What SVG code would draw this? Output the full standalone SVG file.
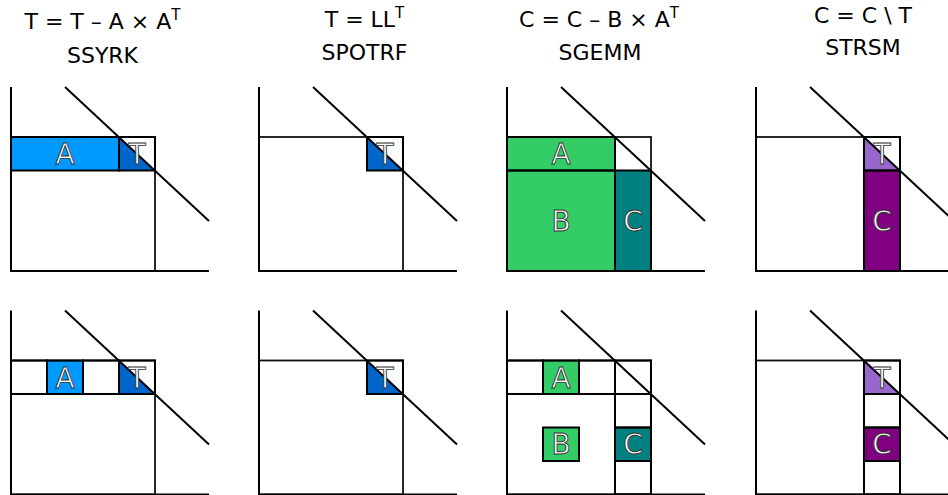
<svg xmlns="http://www.w3.org/2000/svg" width="948" height="495" viewBox="0 0 948 495">
<style>
.ln{stroke:#000;stroke-width:2;fill:none}
.ol{stroke:#000;stroke-width:2;fill:none}
.bx{stroke:#111;stroke-width:1.8;fill:none}
.a1{fill:#0099ff}
.t1{fill:#0066cc}
.g{fill:#33cc66}
.tl{fill:#008080}
.p1{fill:#9966cc}
.p2{fill:#800080}
.lbl{font-family:"DejaVu Sans",sans-serif;font-size:28px;fill:#fff;stroke:#333;stroke-width:0.9;text-anchor:middle}
.tt{font-family:"DejaVu Sans",sans-serif;font-size:22px;fill:#000;text-anchor:middle}
.sup{font-size:15px}
</style>
<rect width="948" height="495" fill="#fff"/>
<g id="titles">
<text class="tt" x="102.5" y="29">T = T – A × A<tspan class="sup" dy="-9">T</tspan></text>
<text class="tt" x="102.5" y="63">SSYRK</text>
<text class="tt" x="364.5" y="27">T = LL<tspan class="sup" dy="-9">T</tspan></text>
<text class="tt" x="364.5" y="59.5">SPOTRF</text>
<text class="tt" x="599" y="27">C = C – B × A<tspan class="sup" dy="-9">T</tspan></text>
<text class="tt" x="600" y="60">SGEMM</text>
<text class="tt" x="863" y="23">C = C \ T</text>
<text class="tt" x="863" y="54.5">STRSM</text>
</g>
<!-- top row -->
<g id="ssyrk-top">
<rect class="a1" x="11" y="137" width="108" height="33.5"/>
<polygon class="t1" points="119,137 119,170.5 155,170.5"/>
<rect class="bx" x="11" y="137" width="144" height="134"/>
<rect class="ol" x="11" y="137" width="108" height="33.5"/>
<rect class="ol" x="119" y="137" width="36" height="33.5"/>
<path class="ln" d="M11,87V271H209"/>
<path class="ln" d="M65,87L209,221"/>
<text class="lbl" x="65" y="164">A</text>
<text class="lbl" x="137" y="164">T</text>
</g>
<g id="spotrf-top">
<polygon class="t1" points="367,137 367,170.5 403,170.5"/>
<rect class="bx" x="259" y="137" width="144" height="134"/>
<rect class="ol" x="367" y="137" width="36" height="33.5"/>
<path class="ln" d="M259,87V271H457"/>
<path class="ln" d="M313,87L457,221"/>
<text class="lbl" x="385" y="164">T</text>
</g>
<g id="sgemm-top">
<rect class="g" x="507" y="137" width="108" height="33.5"/>
<rect class="g" x="507" y="170.5" width="108" height="100.5"/>
<rect class="tl" x="615" y="170.5" width="36" height="100.5"/>
<rect class="bx" x="507" y="137" width="144" height="134"/>
<rect class="ol" x="507" y="137" width="108" height="33.5"/>
<rect class="ol" x="507" y="170.5" width="108" height="100.5"/>
<rect class="ol" x="615" y="170.5" width="36" height="100.5"/>
<path class="ln" d="M507,87V271H705"/>
<path class="ln" d="M561,87L705,221"/>
<text class="lbl" x="561" y="164">A</text>
<text class="lbl" x="561" y="230.75">B</text>
<text class="lbl" x="633" y="230.75">C</text>
</g>
<g id="strsm-top">
<polygon class="p1" points="864,137 864,170.5 900,170.5"/>
<rect class="p2" x="864" y="170.5" width="36" height="100.5"/>
<rect class="bx" x="756" y="137" width="144" height="134"/>
<rect class="ol" x="864" y="137" width="36" height="33.5"/>
<rect class="ol" x="864" y="170.5" width="36" height="100.5"/>
<path class="ln" d="M756,87V271H954"/>
<path class="ln" d="M810,87L954,221"/>
<text class="lbl" x="882" y="164">T</text>
<text class="lbl" x="882" y="230.75">C</text>
</g>
<!-- bottom row -->
<g id="ssyrk-bottom" transform="translate(0,223.5)">
<rect class="a1" x="47" y="137" width="36" height="33.5"/>
<polygon class="t1" points="119,137 119,170.5 155,170.5"/>
<rect class="bx" x="11" y="137" width="144" height="134"/>
<rect class="ol" x="11" y="137" width="36" height="33.5"/>
<rect class="ol" x="47" y="137" width="36" height="33.5"/>
<rect class="ol" x="83" y="137" width="36" height="33.5"/>
<rect class="ol" x="119" y="137" width="36" height="33.5"/>
<path class="ln" d="M11,87V271H209"/>
<path class="ln" d="M65,87L209,221"/>
<text class="lbl" x="65" y="164">A</text>
<text class="lbl" x="137" y="164">T</text>
</g>
<g id="spotrf-bottom" transform="translate(0,223.5)">
<polygon class="t1" points="367,137 367,170.5 403,170.5"/>
<rect class="bx" x="259" y="137" width="144" height="134"/>
<rect class="ol" x="367" y="137" width="36" height="33.5"/>
<path class="ln" d="M259,87V271H457"/>
<path class="ln" d="M313,87L457,221"/>
<text class="lbl" x="385" y="164">T</text>
</g>
<g id="sgemm-bottom" transform="translate(0,223.5)">
<rect class="g" x="543" y="137" width="36" height="33.5"/>
<rect class="g" x="543" y="204" width="36" height="33.5"/>
<rect class="tl" x="615" y="204" width="36" height="33.5"/>
<rect class="bx" x="507" y="137" width="144" height="134"/>
<rect class="ol" x="507" y="137" width="36" height="33.5"/>
<rect class="ol" x="543" y="137" width="36" height="33.5"/>
<rect class="ol" x="579" y="137" width="36" height="33.5"/>
<rect class="ol" x="615" y="137" width="36" height="33.5"/>
<rect class="ol" x="615" y="170.5" width="36" height="33.5"/>
<rect class="ol" x="615" y="204" width="36" height="33.5"/>
<rect class="ol" x="615" y="237.5" width="36" height="33.5"/>
<rect class="ol" x="543" y="204" width="36" height="33.5"/>
<path class="ln" d="M507,87V271H705"/>
<path class="ln" d="M561,87L705,221"/>
<text class="lbl" x="561" y="164">A</text>
<text class="lbl" x="561" y="230.75">B</text>
<text class="lbl" x="633" y="230.75">C</text>
</g>
<g id="strsm-bottom" transform="translate(0,223.5)">
<polygon class="p1" points="864,137 864,170.5 900,170.5"/>
<rect class="p2" x="864" y="204" width="36" height="33.5"/>
<rect class="bx" x="756" y="137" width="144" height="134"/>
<rect class="ol" x="864" y="137" width="36" height="33.5"/>
<rect class="ol" x="864" y="170.5" width="36" height="33.5"/>
<rect class="ol" x="864" y="204" width="36" height="33.5"/>
<rect class="ol" x="864" y="237.5" width="36" height="33.5"/>
<path class="ln" d="M756,87V271H954"/>
<path class="ln" d="M810,87L954,221"/>
<text class="lbl" x="882" y="164">T</text>
<text class="lbl" x="882" y="230.75">C</text>
</g>
</svg>
